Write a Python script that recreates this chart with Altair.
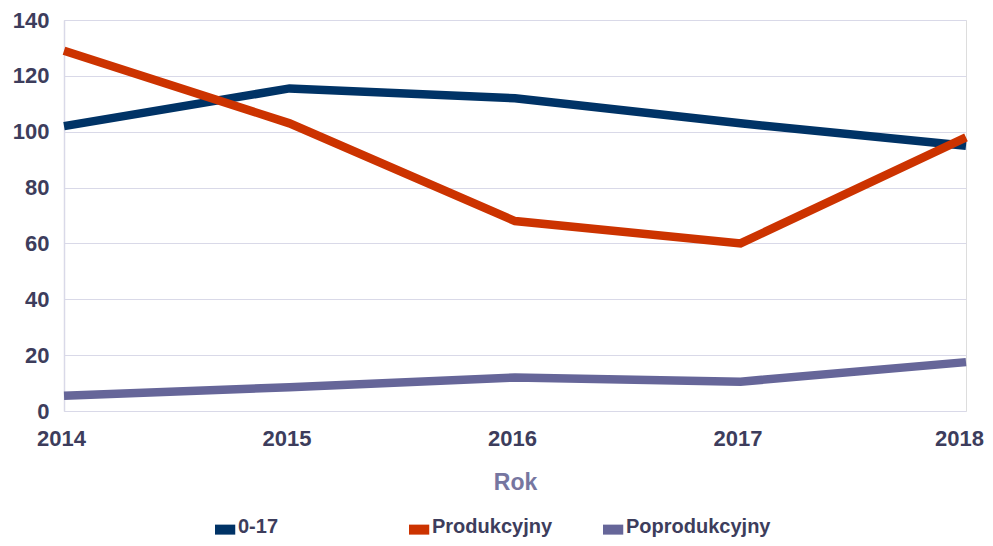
import altair as alt
import pandas as pd

years = ["2014", "2015", "2016", "2017", "2018"]
series_names = ["0-17", "Produkcyjny", "Poprodukcyjny"]
v_0_17 = [102, 115.5, 112, 103, 95]
v_prod = [129, 103, 68, 60, 98]
v_poprod = [5.5, 8.5, 12, 10.5, 17.5]
colors = ["#003366", "#CC3300", "#666699"]

rows = []
for name, vals in zip(series_names, [v_0_17, v_prod, v_poprod]):
    for y, v in zip(years, vals):
        rows.append({"Rok": y, "Seria": name, "Wartość": v})
df = pd.DataFrame(rows)

label_color = "#3d3d5c"
grid_color = "#d9d9e8"
font = "Liberation Sans"

chart = alt.Chart(df).mark_line(strokeWidth=8.5, strokeCap="butt", strokeJoin="miter").encode(
    x=alt.X("Rok:O", scale=alt.Scale(type="point", padding=0),
            axis=alt.Axis(title="Rok", labelAngle=0, labelFont=font, labelFontSize=22,
                          labelFontWeight="bold", labelColor=label_color, labelPadding=17,
                          labelOffset={"condition": {"test": "datum.label == '2018'", "value": -7},
                                       "value": -3},
                          ticks=False, domain=False, grid=False,
                          titleFont=font, titleFontSize=23, titleFontWeight="bold",
                          titleColor="#7676a0", titlePadding=22)),
    y=alt.Y("Wartość:Q", scale=alt.Scale(domain=[0, 140]),
            axis=alt.Axis(title=None, values=[0, 20, 40, 60, 80, 100, 120, 140],
                          labelFont=font, labelFontSize=22, labelFontWeight="bold",
                          labelColor=label_color, labelPadding=15, ticks=False,
                          domain=True, domainColor=grid_color, domainWidth=1.5,
                          grid=True, gridColor=grid_color, gridWidth=1.2)),
    color=alt.Color("Seria:N", scale=alt.Scale(domain=series_names, range=colors),
                    sort=series_names,
                    legend=alt.Legend(title=None, orient="none", legendX=146, legendY=493,
                                      direction="horizontal", symbolType="M-1,0.25H1.25",
                                      symbolStrokeWidth=10, symbolSize=324,
                                      labelFont=font, labelFontSize=20,
                                      labelFontWeight="bold", labelColor=label_color,
                                      labelOffset=0, columnPadding=6, gridAlign="all",
                                      labelLimit=300)),
).properties(
    width=902, height=391,
    autosize=alt.AutoSizeParams(type="none"),
    padding={"left": 56, "top": 12, "right": 19, "bottom": 127},
).configure_view(stroke=None).configure(background="white")

chart.save("out.html", embed_options={"renderer": "svg", "actions": False})
